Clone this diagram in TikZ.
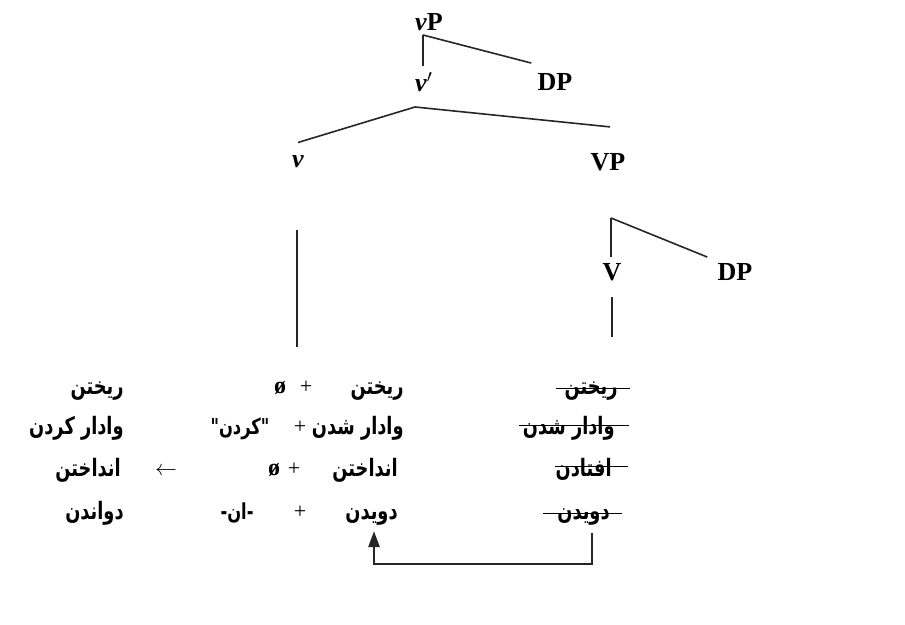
\documentclass[tikz,border=0pt]{standalone}
\usepackage{fontspec}
\usepackage{tikz}
\usetikzlibrary{arrows.meta}
\usetikzlibrary{calc,positioning}
\setmainfont{Liberation Serif}
\newfontfamily\farsifont[Script=Arabic,FakeStretch=0.74]{DejaVu Sans}
\TeXXeTstate=1
\newcommand{\fa}[1]{{\farsifont\bfseries\beginR #1\endR}}
\tikzset{%
  >={Triangle[width=2mm,length=2.8mm]},
  % Specifications for style of nodes:
  cat/.style = {inner sep=0pt, font=\fontsize{13}{15}\selectfont\bfseries},
  word/.style = {inner sep=0pt, anchor=base east,
    font=\fontsize{12}{14}\selectfont},
  sign/.style = {inner sep=0pt, anchor=base,
    font=\fontsize{11}{13}\selectfont},
  branch/.style = {line width=0.8pt, draw=black!85},
  strike/.style = {line width=0.6pt},
}

\begin{document}
\begin{tikzpicture}[x=0.5pt, y=-0.5pt]
  \useasboundingbox (0,0) rectangle (905,625);
  % Specification of tree nodes (position, etc.)
  \node(vP)[cat] at (429,22) {\textit{v}P};
  \node(vbar)[cat] at (424,82) {\textit{v}$^{\prime}$};
  \node(DPa)[cat] at (555,82) {DP};
  \node(v)[cat] at (298,162) {\textit{v}};
  \node(VP)[cat] at (608,162) {VP};
  \node(V)[cat] at (612,272) {V};
  \node(DPb)[cat] at (735,272) {DP};
  % branches
  \coordinate(vPfoot) at (423,35);
  \coordinate(vbarfoot) at (415,107);
  \coordinate(VPfoot) at (611,218);
  \draw[branch] (vPfoot) -- ([yshift=3pt]vbar.north -| vPfoot);
  \draw[branch] (vPfoot) -- ([xshift=-3pt,yshift=5pt]DPa.north west);
  \draw[branch] (vbarfoot) -- ([yshift=6.5pt]v.north);
  \draw[branch] (vbarfoot) -- ([xshift=1pt,yshift=13pt]VP.north);
  \draw[branch] (VPfoot) -- ([yshift=3pt]V.north -| VPfoot);
  \draw[branch] (VPfoot) -- ([xshift=-5pt,yshift=3pt]DPb.north west);
  \draw[branch] (v.south) ++(-1,62) -- ++(0,117);
  \draw[branch] (V.south) ++(0,16) -- ++(0,40);
  % left column
  \node(l1)[word] at (124,395) {\fa{ریختن}};
  \node(l2)[word] at (124,435) {\fa{وادار کردن}};
  \node(l3)[word] at (121,477) {\fa{انداختن}};
  \node(l4)[word] at (124,519) {\fa{دواندن}};
  \node(to)[sign] at (166,476) {$\leftarrow$};
  % middle column
  \node(m1)[word] at (404,395) {\fa{ریختن}};
  \node(p1)[sign] at (306,394) {+};
  \node(z1)[sign] at (280,394) {\fontsize{12}{14}\selectfont\textbf{ø}};
  \node(m2)[word] at (404,435) {\fa{وادار شدن}};
  \node(p2)[sign] at (300,434) {+};
  \node(k2)[sign] at (240,435) {\fa{"کردن"}};
  \node(m3)[word] at (398,477) {\fa{انداختن}};
  \node(p3)[sign] at (294,476) {+};
  \node(z3)[sign] at (274,476) {\fontsize{12}{14}\selectfont\textbf{ø}};
  \node(m4)[word] at (398,519) {\fa{دویدن}};
  \node(p4)[sign] at (300,518) {+};
  \node(a4)[sign] at (237,519) {\fa{-ان-}};
  % right column, struck out
  \node(r1)[word] at (618,395) {\fa{ریختن}};
  \node(r2)[word] at (615,435) {\fa{وادار شدن}};
  \node(r3)[word] at (612,477) {\fa{افتادن}};
  \node(r4)[word] at (610,519) {\fa{دویدن}};
  \draw[strike] ([xshift=-4pt,yshift=1.5pt]r1.west) -- ([xshift=6pt,yshift=1.5pt]r1.east);
  \draw[strike] ([xshift=-2pt,yshift=1.5pt]r2.west) -- ([xshift=7pt,yshift=1.5pt]r2.east);
  \draw[strike] ([yshift=1.5pt]r3.west) -- ([xshift=8pt,yshift=1.5pt]r3.east);
  \draw[strike] ([xshift=-7pt,yshift=1.5pt]r4.west) -- ([xshift=6pt,yshift=1.5pt]r4.east);
  % movement arrow
  \draw[->, branch] ([xshift=-9pt]r4.south east) ++(0,8) -- ++(0,31)
    -| ([xshift=-12pt,yshift=-3pt]m4.south east);
\end{tikzpicture}
\end{document}
